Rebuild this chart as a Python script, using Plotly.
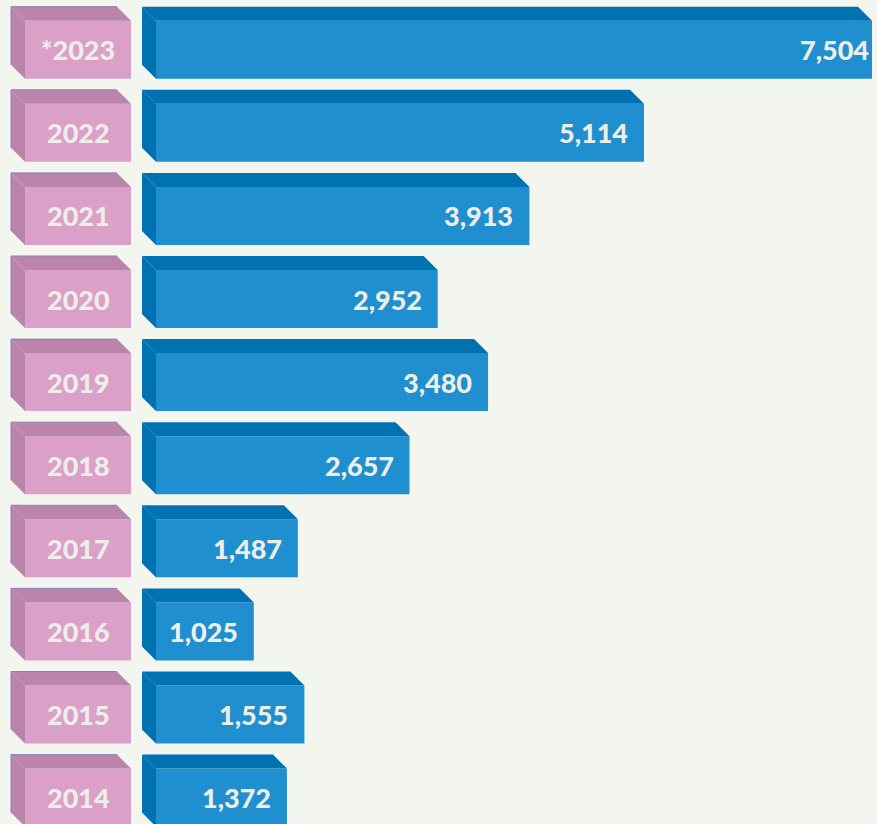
import plotly.graph_objects as go

# ---- data ----
years = ["*2023", "2022", "2021", "2020", "2019", "2018", "2017", "2016", "2015", "2014"]
values = [7504, 5114, 3913, 2952, 3480, 2657, 1487, 1025, 1555, 1372]

# ---- styling / geometry constants ----
W, H = 877, 824
PX_PER_UNIT = 0.09542          # horizontal scale
ZERO_PX = 156                  # pixel where value 0 sits
ROW_PX = 83.1                  # row spacing in pixels
ROW0_PX = 49.7                 # centre of first row in pixels
FRONT_H_PX = 58                # height of front face
DEPTH_PX = 14                  # 3D depth offset

BG = "#F3F5EF"
BLUE_FRONT = "#1F8FCF"
BLUE_DARK = "#0071B1"
PINK_FRONT = "#DBA0C8"
PINK_DARK = "#BB84AA"
PINK_EDGE = "#8C7FB8"
TEXT = "#EEEEE8"

x_range = [-ZERO_PX / PX_PER_UNIT, (W - ZERO_PX) / PX_PER_UNIT]
y_range = [(H - ROW0_PX) / ROW_PX, -ROW0_PX / ROW_PX]
bh = FRONT_H_PX / ROW_PX
dx = DEPTH_PX / PX_PER_UNIT
dy = DEPTH_PX / ROW_PX

pink_l = (25 - ZERO_PX) / PX_PER_UNIT
pink_r = (131 - ZERO_PX) / PX_PER_UNIT

rows = list(range(len(years)))

fig = go.Figure()


def faces(x0, x1, y):
    top = y - bh / 2
    bot = y + bh / 2
    tx = [x0 - dx, x1 - dx, x1, x0, x0 - dx, None]
    ty = [top - dy, top - dy, top, top, top - dy, None]
    lx = [x0 - dx, x0, x0, x0 - dx, x0 - dx, None]
    ly = [top - dy, top, bot, bot - dy, top - dy, None]
    return tx, ty, lx, ly


def add_faces(x0_list, x1_list, color):
    tx, ty, lx, ly = [], [], [], []
    for i, x0, x1 in zip(rows, x0_list, x1_list):
        a, b, c, d = faces(x0, x1, i)
        tx += a; ty += b; lx += c; ly += d
    for xs, ys in ((tx, ty), (lx, ly)):
        fig.add_trace(go.Scatter(x=xs, y=ys, fill="toself", fillcolor=color, mode="none",
                                 hoverinfo="skip", showlegend=False))


# pink label boxes
add_faces([pink_l] * len(rows), [pink_r] * len(rows), PINK_DARK)
fig.add_trace(go.Bar(orientation="h", y=rows, x=[pink_r - pink_l] * len(rows), base=pink_l,
                     width=bh, marker=dict(color=PINK_FRONT, line=dict(width=0)),
                     hoverinfo="skip", showlegend=False))
ex, ey = [], []
for i in rows:
    top = i - bh / 2
    bot = i + bh / 2
    ex += [pink_l - dx, pink_l - dx, pink_r - dx, None]
    ey += [bot - dy, top - dy, top - dy, None]
fig.add_trace(go.Scatter(x=ex, y=ey, mode="lines", line=dict(color=PINK_EDGE, width=1),
                         hoverinfo="skip", showlegend=False))

# blue bars
add_faces([0] * len(rows), values, BLUE_DARK)
fig.add_trace(go.Bar(orientation="h", y=rows, x=values, base=0, width=bh,
                     marker=dict(color=BLUE_FRONT, line=dict(width=0)),
                     hovertemplate="%{x:,}<extra></extra>", showlegend=False))

font = dict(family="Lato, 'Open Sans', sans-serif", size=27, color=TEXT, weight=900)

annotations = []
for i, (yr, v) in enumerate(zip(years, values)):
    annotations.append(dict(x=(pink_l + pink_r) / 2, y=i, text=yr, showarrow=False,
                            xanchor="center", yanchor="middle", font=font))
    end_px = ZERO_PX + v * PX_PER_UNIT
    pad_px = 14 if end_px < W - 14 else 1
    annotations.append(dict(x=v - pad_px / PX_PER_UNIT, y=i, text=f"{v:,}", showarrow=False,
                            xanchor="right", yanchor="middle", font=font))

fig.update_layout(
    width=W, height=H,
    margin=dict(l=0, r=0, t=0, b=0),
    paper_bgcolor=BG, plot_bgcolor=BG,
    barmode="overlay",
    annotations=annotations,
    xaxis=dict(range=x_range, visible=False, fixedrange=True),
    yaxis=dict(range=y_range, visible=False, fixedrange=True),
)

fig.write_html(
    "out.html",
    config={"displayModeBar": False},
    post_script="document.body.style.margin='0';document.body.style.overflow='hidden';"
                "document.body.style.background='" + BG + "';",
)
